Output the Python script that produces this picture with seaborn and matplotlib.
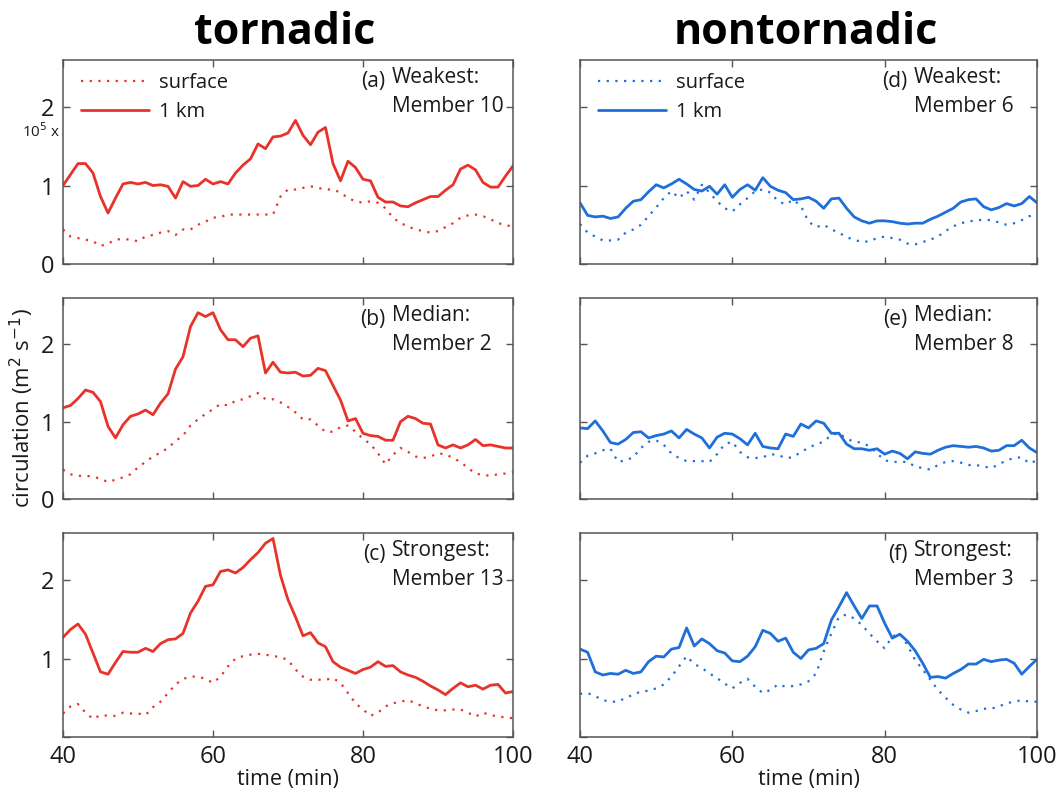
import numpy as np
import pandas as pd
import matplotlib
matplotlib.use("Agg")
import matplotlib.pyplot as plt
import seaborn as sns

# ---------------- data (circulation, units of 10^5 m^2 s^-1) ----------------
time_min = list(range(40, 101))

a_sfc = [0.44, 0.35, 0.33, 0.31, 0.29, 0.23, 0.26, 0.31, 0.32, 0.31, 0.29, 0.35, 0.37, 0.40, 0.42, 0.37,
         0.44, 0.44, 0.50, 0.54, 0.59, 0.60, 0.63, 0.63, 0.63, 0.63, 0.63, 0.63, 0.63, 0.86, 0.95, 0.95,
         0.97, 0.99, 0.97, 0.95, 0.95, 0.91, 0.84, 0.80, 0.78, 0.80, 0.78, 0.71, 0.59, 0.52, 0.48, 0.44,
         0.42, 0.40, 0.42, 0.47, 0.52, 0.59, 0.62, 0.63, 0.61, 0.57, 0.52, 0.50, 0.47]
a_1km = [1.00, 1.14, 1.28, 1.28, 1.16, 0.86, 0.65, 0.84, 1.02, 1.04, 1.02, 1.04, 1.00, 1.01, 0.99, 0.84,
         1.05, 0.99, 1.00, 1.08, 1.02, 1.05, 1.02, 1.16, 1.26, 1.34, 1.53, 1.47, 1.62, 1.63, 1.67, 1.83,
         1.64, 1.52, 1.68, 1.74, 1.28, 1.06, 1.31, 1.23, 1.08, 1.06, 0.85, 0.79, 0.79, 0.74, 0.73, 0.78,
         0.82, 0.86, 0.86, 0.94, 1.01, 1.21, 1.26, 1.20, 1.04, 0.98, 0.98, 1.12, 1.25]

b_sfc = [0.38, 0.32, 0.30, 0.30, 0.29, 0.26, 0.22, 0.25, 0.28, 0.32, 0.41, 0.48, 0.55, 0.60, 0.66, 0.75,
         0.82, 0.95, 1.03, 1.10, 1.16, 1.23, 1.21, 1.27, 1.29, 1.33, 1.37, 1.29, 1.29, 1.25, 1.19, 1.12,
         1.03, 1.03, 0.95, 0.87, 0.87, 0.93, 0.95, 0.87, 0.78, 0.71, 0.59, 0.45, 0.57, 0.66, 0.61, 0.55,
         0.53, 0.55, 0.59, 0.58, 0.53, 0.48, 0.40, 0.33, 0.31, 0.30, 0.32, 0.33, 0.35]
b_1km = [1.18, 1.21, 1.30, 1.41, 1.38, 1.26, 0.94, 0.79, 0.96, 1.07, 1.10, 1.15, 1.09, 1.24, 1.36, 1.68,
         1.84, 2.23, 2.41, 2.36, 2.41, 2.19, 2.06, 2.06, 1.97, 2.08, 2.11, 1.63, 1.77, 1.64, 1.63, 1.64,
         1.59, 1.60, 1.69, 1.66, 1.47, 1.28, 1.01, 1.04, 0.85, 0.82, 0.81, 0.76, 0.76, 1.00, 1.07, 1.04,
         0.98, 0.97, 0.70, 0.66, 0.70, 0.66, 0.70, 0.77, 0.69, 0.70, 0.68, 0.66, 0.66]

c_sfc = [0.30, 0.39, 0.42, 0.31, 0.23, 0.28, 0.27, 0.27, 0.31, 0.30, 0.30, 0.28, 0.38, 0.45, 0.56, 0.67,
         0.74, 0.77, 0.77, 0.74, 0.69, 0.77, 0.90, 1.00, 1.03, 1.05, 1.06, 1.05, 1.03, 1.02, 0.98, 0.86,
         0.77, 0.73, 0.73, 0.73, 0.75, 0.69, 0.56, 0.43, 0.35, 0.27, 0.31, 0.39, 0.43, 0.45, 0.47, 0.43,
         0.39, 0.36, 0.34, 0.34, 0.35, 0.35, 0.31, 0.26, 0.31, 0.28, 0.26, 0.25, 0.24]
c_1km = [1.27, 1.37, 1.44, 1.31, 1.07, 0.83, 0.80, 0.95, 1.09, 1.08, 1.08, 1.13, 1.09, 1.19, 1.24, 1.25,
         1.32, 1.58, 1.73, 1.92, 1.94, 2.11, 2.13, 2.09, 2.16, 2.26, 2.35, 2.47, 2.53, 2.06, 1.75, 1.53,
         1.29, 1.33, 1.20, 1.15, 0.96, 0.89, 0.85, 0.81, 0.86, 0.89, 0.96, 0.90, 0.91, 0.83, 0.79, 0.76,
         0.71, 0.65, 0.60, 0.54, 0.62, 0.69, 0.64, 0.66, 0.61, 0.66, 0.67, 0.56, 0.58]

d_sfc = [0.51, 0.40, 0.35, 0.30, 0.30, 0.31, 0.40, 0.44, 0.50, 0.61, 0.72, 0.84, 0.93, 0.84, 0.93, 0.82,
         1.01, 0.91, 0.80, 0.71, 0.67, 0.76, 0.84, 0.93, 0.95, 0.91, 0.80, 0.76, 0.82, 0.74, 0.54, 0.47,
         0.50, 0.44, 0.40, 0.34, 0.31, 0.28, 0.29, 0.33, 0.35, 0.33, 0.31, 0.26, 0.25, 0.28, 0.31, 0.35,
         0.42, 0.48, 0.52, 0.54, 0.56, 0.56, 0.56, 0.53, 0.50, 0.52, 0.56, 0.61, 0.63]
d_1km = [0.78, 0.62, 0.60, 0.61, 0.58, 0.60, 0.71, 0.80, 0.82, 0.92, 1.01, 0.97, 1.02, 1.08, 1.02, 0.95,
         0.93, 0.99, 0.89, 1.01, 0.85, 0.95, 1.01, 0.94, 1.10, 0.99, 0.94, 0.91, 0.82, 0.83, 0.85, 0.80,
         0.71, 0.83, 0.84, 0.71, 0.60, 0.55, 0.52, 0.55, 0.55, 0.54, 0.52, 0.51, 0.52, 0.52, 0.57, 0.61,
         0.66, 0.71, 0.79, 0.82, 0.83, 0.73, 0.69, 0.72, 0.77, 0.74, 0.77, 0.86, 0.78]

e_sfc = [0.47, 0.56, 0.59, 0.63, 0.65, 0.48, 0.50, 0.54, 0.66, 0.74, 0.76, 0.70, 0.59, 0.53, 0.49, 0.49,
         0.49, 0.48, 0.58, 0.71, 0.74, 0.61, 0.54, 0.53, 0.54, 0.58, 0.57, 0.53, 0.54, 0.61, 0.66, 0.71,
         0.74, 0.83, 0.85, 0.78, 0.74, 0.73, 0.68, 0.59, 0.50, 0.48, 0.48, 0.48, 0.42, 0.40, 0.38, 0.44,
         0.48, 0.49, 0.47, 0.44, 0.44, 0.42, 0.40, 0.45, 0.50, 0.53, 0.54, 0.46, 0.50]
e_1km = [0.92, 0.91, 1.01, 0.88, 0.73, 0.71, 0.77, 0.86, 0.87, 0.79, 0.82, 0.84, 0.88, 0.79, 0.90, 0.84,
         0.79, 0.66, 0.80, 0.85, 0.84, 0.78, 0.70, 0.85, 0.68, 0.66, 0.65, 0.84, 0.81, 0.97, 0.92, 1.01,
         0.98, 0.85, 0.85, 0.71, 0.65, 0.65, 0.63, 0.65, 0.58, 0.62, 0.59, 0.52, 0.61, 0.59, 0.58, 0.63,
         0.67, 0.69, 0.68, 0.67, 0.68, 0.66, 0.62, 0.63, 0.69, 0.69, 0.76, 0.66, 0.60]

f_sfc = [0.55, 0.56, 0.52, 0.47, 0.45, 0.45, 0.50, 0.54, 0.58, 0.59, 0.62, 0.67, 0.77, 0.90, 1.03, 0.93,
         0.88, 0.81, 0.75, 0.68, 0.62, 0.69, 0.74, 0.64, 0.56, 0.60, 0.67, 0.64, 0.65, 0.67, 0.71, 0.81,
         1.09, 1.32, 1.53, 1.56, 1.51, 1.43, 1.32, 1.22, 1.13, 1.28, 1.32, 1.17, 0.98, 0.86, 0.73, 0.60,
         0.50, 0.41, 0.35, 0.31, 0.33, 0.36, 0.36, 0.39, 0.43, 0.45, 0.47, 0.45, 0.45]
f_1km = [1.12, 1.08, 0.83, 0.79, 0.81, 0.80, 0.85, 0.81, 0.83, 0.96, 1.03, 1.02, 1.12, 1.14, 1.39, 1.16,
         1.25, 1.19, 1.10, 1.07, 0.97, 0.96, 1.03, 1.15, 1.36, 1.32, 1.22, 1.26, 1.08, 1.00, 1.11, 1.13,
         1.19, 1.49, 1.66, 1.84, 1.67, 1.51, 1.67, 1.67, 1.45, 1.26, 1.31, 1.22, 1.10, 0.94, 0.76, 0.77,
         0.75, 0.81, 0.86, 0.93, 0.93, 0.99, 0.96, 0.98, 0.99, 0.94, 0.80, 0.90, 0.99]

column_titles = ["tornadic", "nontornadic"]
panel_letters = [["(a)", "(b)", "(c)"], ["(d)", "(e)", "(f)"]]
panel_texts = [["Weakest:\nMember 10", "Median:\nMember 2", "Strongest:\nMember 13"],
               ["Weakest:\nMember 6", "Median:\nMember 8", "Strongest:\nMember 3"]]
series = [[(a_sfc, a_1km), (b_sfc, b_1km), (c_sfc, c_1km)],
          [(d_sfc, d_1km), (e_sfc, e_1km), (f_sfc, f_1km)]]
level_labels = ["surface", "1 km"]
x_ticks = [40, 60, 80, 100]
y_ticks = [0, 1, 2]

# ---------------- style ----------------
sns.set_style("ticks")
plt.rcParams["font.family"] = ["Open Sans", "DejaVu Sans"]
plt.rcParams["axes.edgecolor"] = "#555555"
plt.rcParams["axes.linewidth"] = 1.1

col_colors = ["#E8332A", "#1E6FD9"]

fig = plt.figure(figsize=(10.60, 7.97), dpi=100)
W, H = 1060, 797
col_x = [(63, 513), (580, 1037)]
row_y = [(60, 264), (298, 499), (533, 737)]

for ci in range(2):
    for ri in range(3):
        x0, x1 = col_x[ci]
        y0, y1 = row_y[ri]
        ax = fig.add_axes([x0 / W, 1 - y1 / H, (x1 - x0) / W, (y1 - y0) / H])
        sfc, km1 = series[ci][ri]
        df = pd.DataFrame({
            "time": time_min * 2,
            "circ": list(sfc) + list(km1),
            "level": [level_labels[0]] * len(time_min) + [level_labels[1]] * len(time_min),
        })
        sns.lineplot(data=df[df.level == level_labels[0]], x="time", y="circ", ax=ax,
                     color=col_colors[ci], lw=1.6, linestyle=(0, (1, 2.9)),
                     label=level_labels[0], legend=False)
        sns.lineplot(data=df[df.level == level_labels[1]], x="time", y="circ", ax=ax,
                     color=col_colors[ci], lw=2.0, label=level_labels[1], legend=False)
        ax.set_xlim(40, 100)
        ax.set_ylim(0, 2.6)
        ax.set_xticks(x_ticks)
        ax.set_yticks(y_ticks)
        ax.set_xlabel("")
        ax.set_ylabel("")
        ax.tick_params(direction="in", top=True, right=True, length=5, width=1,
                       color="#555555", labelsize=17, labelcolor="#1a1a1a", pad=6)
        for s in ax.spines.values():
            s.set_visible(True)
        if ri < 2:
            ax.set_xticklabels([])
        else:
            ax.set_xlabel("time (min)", fontsize=15.5, color="#1a1a1a", labelpad=0)
        if ci == 1:
            ax.set_yticklabels([])
        elif ri == 2:
            ax.set_yticklabels(["", "1", "2"])
        # panel annotations
        ax.text(0.716, 0.895, panel_letters[ci][ri], transform=ax.transAxes,
                ha="right", va="center", fontsize=15, color="#1a1a1a")
        ax.text(0.731, 0.895 + 0.07, panel_texts[ci][ri], transform=ax.transAxes,
                ha="left", va="top", fontsize=15, color="#1a1a1a", linespacing=1.5)
        if ri == 0:
            ax.legend(loc="upper left", bbox_to_anchor=(0.01, 1.0), frameon=False,
                      fontsize=14.5, handlelength=3.4, handletextpad=0.5,
                      labelspacing=0.45, borderaxespad=0.25, borderpad=0.4,
                      labelcolor="#1a1a1a")
            fig.text(((x0 + x1) / 2 - 3) / W, 1 - 32 / H, column_titles[ci],
                     ha="center", va="center", fontsize=31, fontweight="bold",
                     color="black")

fig.text(22 / W, 1 - 132 / H, "10$^5$ x", ha="left", va="center", fontsize=11,
         color="#1a1a1a")
fig.text(22 / W, 1 - 408 / H, "circulation (m$^2$ s$^{-1}$)", rotation=90,
         ha="center", va="center", fontsize=16, color="#1a1a1a")

fig.savefig("out.png", dpi=100, facecolor="white")
